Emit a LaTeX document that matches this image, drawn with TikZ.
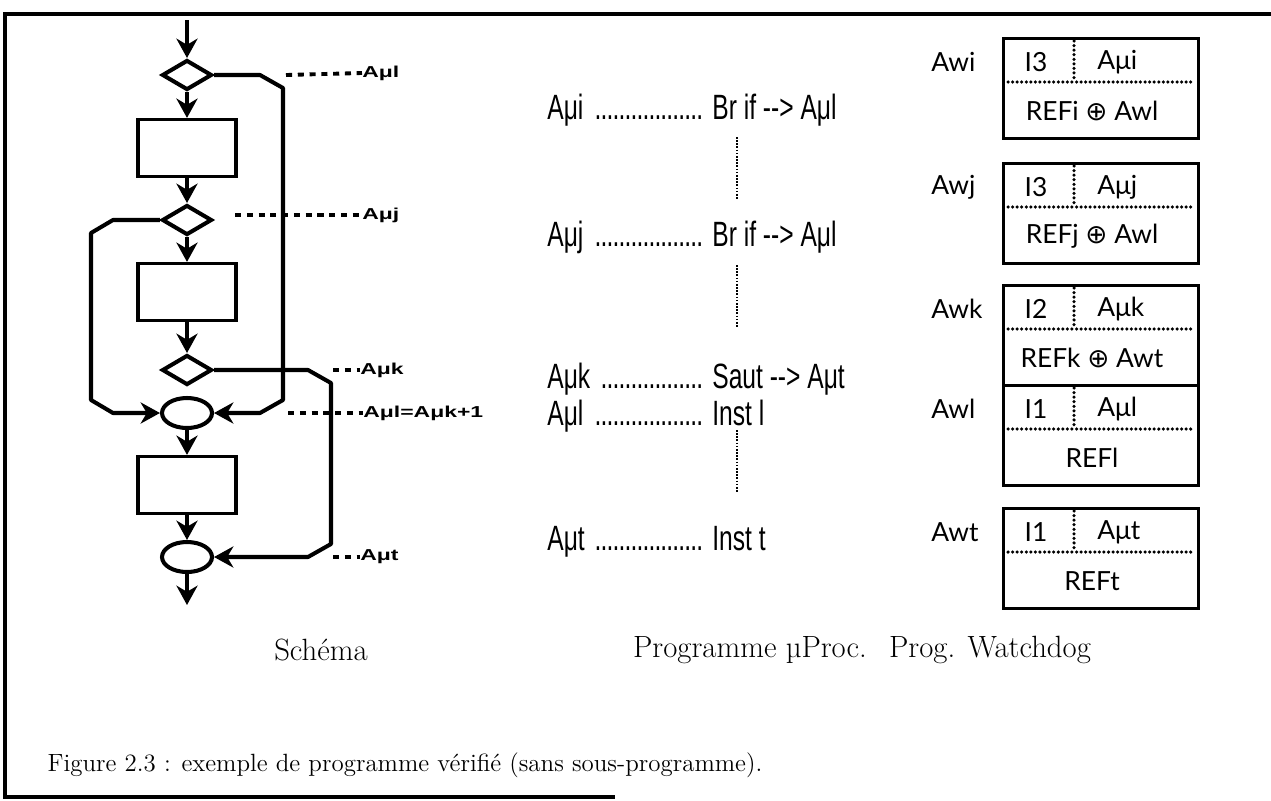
\documentclass[tikz,border=0pt]{standalone}
\usepackage{fontspec}
\usetikzlibrary{arrows.meta,shapes.geometric}
\newfontfamily\progfont[FakeStretch=0.7]{Liberation Sans}
\newfontfamily\markfont[FakeStretch=1.45]{Liberation Sans Bold}
\newfontfamily\wdfont{Lato}
\newfontfamily\symfont{DejaVu Sans}
\tikzstyle{flow} = [line width=2.3pt, -{Stealth[length=11pt,width=12pt,inset=3.5pt]}]
\tikzstyle{branch} = [line width=2.3pt, line join=round]
\tikzstyle{test} = [diamond, draw, line width=2.3pt, minimum width=1cm, minimum height=0.6cm, inner sep=0pt, aspect=1.67]
\tikzstyle{block} = [rectangle, draw, line width=1.8pt, minimum width=1.96cm, minimum height=1.14cm]
\tikzstyle{merge} = [ellipse, draw, line width=2.3pt, minimum width=1cm, minimum height=0.6cm, inner sep=0pt]
\tikzstyle{addr} = [font=\markfont\fontsize{9}{10}\selectfont, anchor=west, inner sep=0pt]
\tikzstyle{tickline} = [line width=2.2pt, dash pattern=on 3.5pt off 3.2pt]
\tikzstyle{instr} = [font=\progfont\fontsize{20}{22}\selectfont, anchor=west, inner sep=0pt]
\tikzstyle{gapline} = [line width=1.6pt, dash pattern=on 0.9pt off 0.9pt]
\tikzstyle{wd} = [font=\wdfont\fontsize{15}{17}\selectfont, inner sep=0pt]
\tikzstyle{wdframe} = [rectangle, draw, line width=1.6pt, minimum width=3.9cm, minimum height=2cm, anchor=north west]
\tikzstyle{wddots} = [line width=2pt, line cap=round, dash pattern=on 0pt off 2.6pt]
\tikzstyle{coltitle} = [font=\fontsize{17.5}{20}\selectfont, inner sep=0pt]
% one line of the program: address, dots, instruction
\newcommand{\progline}[2]{\makebox[90pt][l]{#1\ \leaders\hbox to 3.4pt{\hss.\hss}\hfill}\ #2}
% one watchdog word: name, top, label, code, address, reference
\newcommand{\wdbox}[6]{%
  \node[wdframe] (#1) at (1002,#2) {};
  \node[wd, anchor=west] (#1lab) at (931,#2+25) {#3};
  \node[wd] (#1code) at (1036,#2+25) {#4};
  \node[wd, anchor=west] (#1adr) at (1097,#2+25) {#5};
  \node[wd] (#1ref) at (1092,#2+74) {#6};
  \draw[wddots] (1008,#2+45) -- (1192,#2+45);
  \draw[wddots] (1074,#2+4) -- (1074,#2+45);
}

\begin{document}
\begin{tikzpicture}[x=0.02cm, y=-0.02cm]
\useasboundingbox (0,0) rectangle (1271,801);
\draw[line width=2pt] (1271,14) -- (5,14) -- (5,797) -- (615,797);

% flowchart
\coordinate (in) at (187,20);
\node[test] (d1) at (187,75) {};
\node[block] (r1) at (187,148) {};
\node[test] (d2) at (187,220) {};
\node[block] (r2) at (187,292) {};
\node[test] (d3) at (187,370) {};
\node[merge] (e1) at (187,413) {};
\node[block] (r3) at (187,485) {};
\node[merge] (e2) at (187,557) {};
\coordinate (out) at (187,605);

\draw[flow] (in) -- (d1);
\draw[flow] (d1) -- (r1);
\draw[flow] (r1) -- (d2);
\draw[flow] (d2) -- (r2);
\draw[flow] (r2) -- (d3);
\draw[flow] (e1) -- (r3);
\draw[flow] (r3) -- (e2);
\draw[flow] (e2) -- (out);

\draw[branch, flow] (d1.east) -- (260,75) -- (283,88) -- (283,400) -- (260,413) -- (e1.east);
\draw[branch, flow] (d2.west) -- (113,220) -- (91,233) -- (91,400) -- (113,413) -- (e1.west);
\draw[branch, flow] (d3.east) -- (308,370) -- (331,383) -- (331,544) -- (308,557) -- (e2.east);

% addresses
\node[addr] (a1) at (362,73) {Aμl};
\node[addr] (a2) at (362,215) {Aμj};
\node[addr] (a3) at (360,370) {Aμk};
\node[addr] (a4) at (363,413) {Aμl=Aμk+1};
\node[addr] (a5) at (360,557) {Aμt};
\draw[tickline] (286,75) -- (a1.west);
\draw[tickline] (235,215) -- (a2.west);
\draw[tickline] (333,370) -- (a3.west);
\draw[tickline] (288,413) -- (a4.west);
\draw[tickline] (333,557) -- (a5.west);

% program
\node[instr] (p1) at (547,110) {\progline{Aμi}{Br if -{}-{}> Aμl}};
\node[instr] (p2) at (547,237) {\progline{Aμj}{Br if -{}-{}> Aμl}};
\node[instr] (p3) at (547,379) {\progline{Aμk}{Saut -{}-{}> Aμt}};
\node[instr] (p4) at (547,416) {\progline{Aμl}{Inst l}};
\node[instr] (p5) at (547,542) {\progline{Aμt}{Inst t}};
\foreach \ya/\yb in {137/200, 265/328, 430/492}
  \draw[gapline] (737,\ya) -- (737,\yb);

% watchdog
\wdbox{wi}{37}{Awi}{I3}{Aμi}{REFi {\symfont ⊕} Awl}
\wdbox{wj}{162}{Awj}{I3}{Aμj}{REFj {\symfont ⊕} Awl}
\wdbox{wk}{284}{Awk}{I2}{Aμk}{REFk {\symfont ⊕} Awt}
\wdbox{wl}{384}{Awl}{I1}{Aμl}{REFl}
\wdbox{wt}{507}{Awt}{I1}{Aμt}{REFt}

% titles
\node[coltitle] (t1) at (321,650) {Schéma};
\node[coltitle] (t2) at (750,650) {Programme µProc.};
\node[coltitle] (t3) at (990,650) {Prog. Watchdog};
\node[font=\fontsize{14.2}{17}\selectfont, inner sep=0pt] (cap) at (405,765) {Figure 2.3 : exemple de programme vérifié (sans sous-programme).};
\end{tikzpicture}
\end{document}
